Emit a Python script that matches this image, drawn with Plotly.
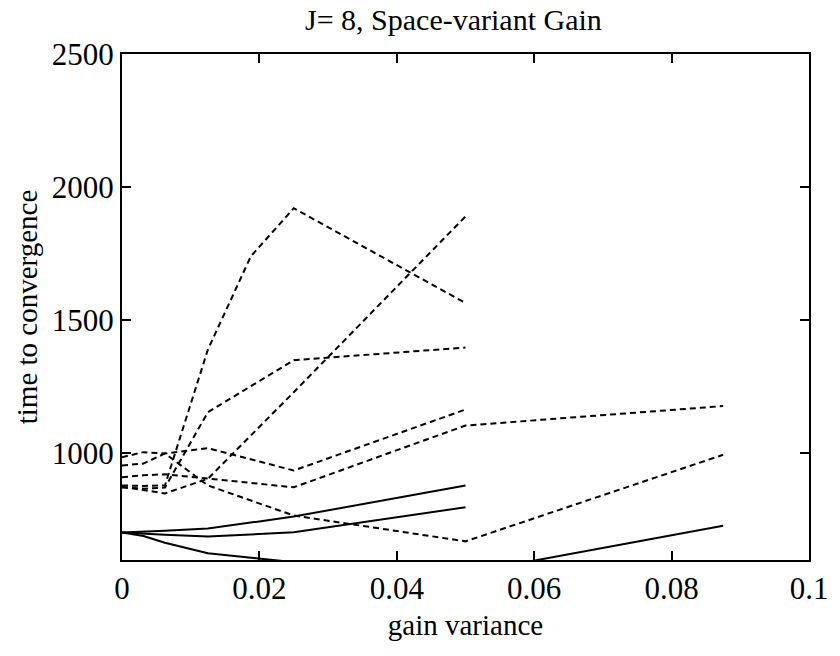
import plotly.graph_objects as go

# x grid (gain variance)
x_base = [0, 0.003125, 0.00625, 0.0125, 0.025, 0.05]
x_ext = [0, 0.003125, 0.00625, 0.0125, 0.025, 0.05, 0.0875]
x_d1 = [0, 0.003125, 0.00625, 0.0125, 0.01875, 0.025, 0.05]

# solid series (time to convergence)
solid_a = [703, 706, 710, 718, 763, 880]
solid_b = [703, 700, 695, 688, 704, 798]
solid_c = [703, 690, 665, 625, 592, 550, 729]

# dashed series
dash_d1 = [880, 878, 880, 1390, 1740, 1921, 1565]
dash_d2 = [875, 862, 850, 905, 1230, 1890]
dash_d3 = [872, 868, 872, 1155, 1350, 1398]
dash_t = [986, 1005, 1000, 1020, 936, 1165]
dash_u = [911, 918, 922, 905, 873, 1105, 1178]
dash_l = [955, 962, 1000, 880, 767, 670, 995]

title_text = "J= 8, Space-variant Gain"

series = [
    (x_base, solid_a, "solid"),
    (x_base, solid_b, "solid"),
    (x_ext, solid_c, "solid"),
    (x_d1, dash_d1, "dash"),
    (x_base, dash_d2, "dash"),
    (x_base, dash_d3, "dash"),
    (x_base, dash_t, "dash"),
    (x_ext, dash_u, "dash"),
    (x_ext, dash_l, "dash"),
]

fig = go.Figure()
for xs, ys, dsh in series:
    fig.add_trace(go.Scatter(
        x=xs, y=ys, mode="lines",
        line=dict(color="black", width=2, dash="6px,4px" if dsh == "dash" else "solid"),
        showlegend=False, hoverinfo="skip",
    ))

fam = "Liberation Serif, Times New Roman, serif"

fig.add_annotation(
    text=title_text, xref="paper", yref="paper", x=0.482, y=1.069,
    xanchor="center", yanchor="middle", showarrow=False,
    font=dict(size=30, family=fam, color="black"),
)

fig.update_layout(
    width=840, height=656,
    margin=dict(l=122, r=21, t=54, b=96),
    paper_bgcolor="white", plot_bgcolor="white",
    font=dict(size=30, family=fam, color="black"),
    xaxis=dict(
        range=[0, 0.1], tickvals=[0, 0.02, 0.04, 0.06, 0.08, 0.1],
        ticktext=["0", "0.02", "0.04", "0.06", "0.08", "0.1"],
        showgrid=False, zeroline=False, showline=True, linecolor="black", linewidth=2,
        mirror="ticks", ticks="inside", ticklen=9, tickwidth=1.5, tickcolor="black",
        tickfont=dict(size=31, family=fam, color="black"),
        title=dict(text="gain variance", font=dict(size=29, family=fam, color="black"), standoff=9),
    ),
    yaxis=dict(
        range=[600, 2500], tickvals=[1000, 1500, 2000, 2500],
        showgrid=False, zeroline=False, showline=True, linecolor="black", linewidth=2,
        mirror="ticks", ticks="inside", ticklen=9, tickwidth=1.5, tickcolor="black",
        tickfont=dict(size=31, family=fam, color="black"),
        title=dict(text="time to convergence", font=dict(size=29, family=fam, color="black"), standoff=6),
    ),
)

fig.write_html("out.html")
